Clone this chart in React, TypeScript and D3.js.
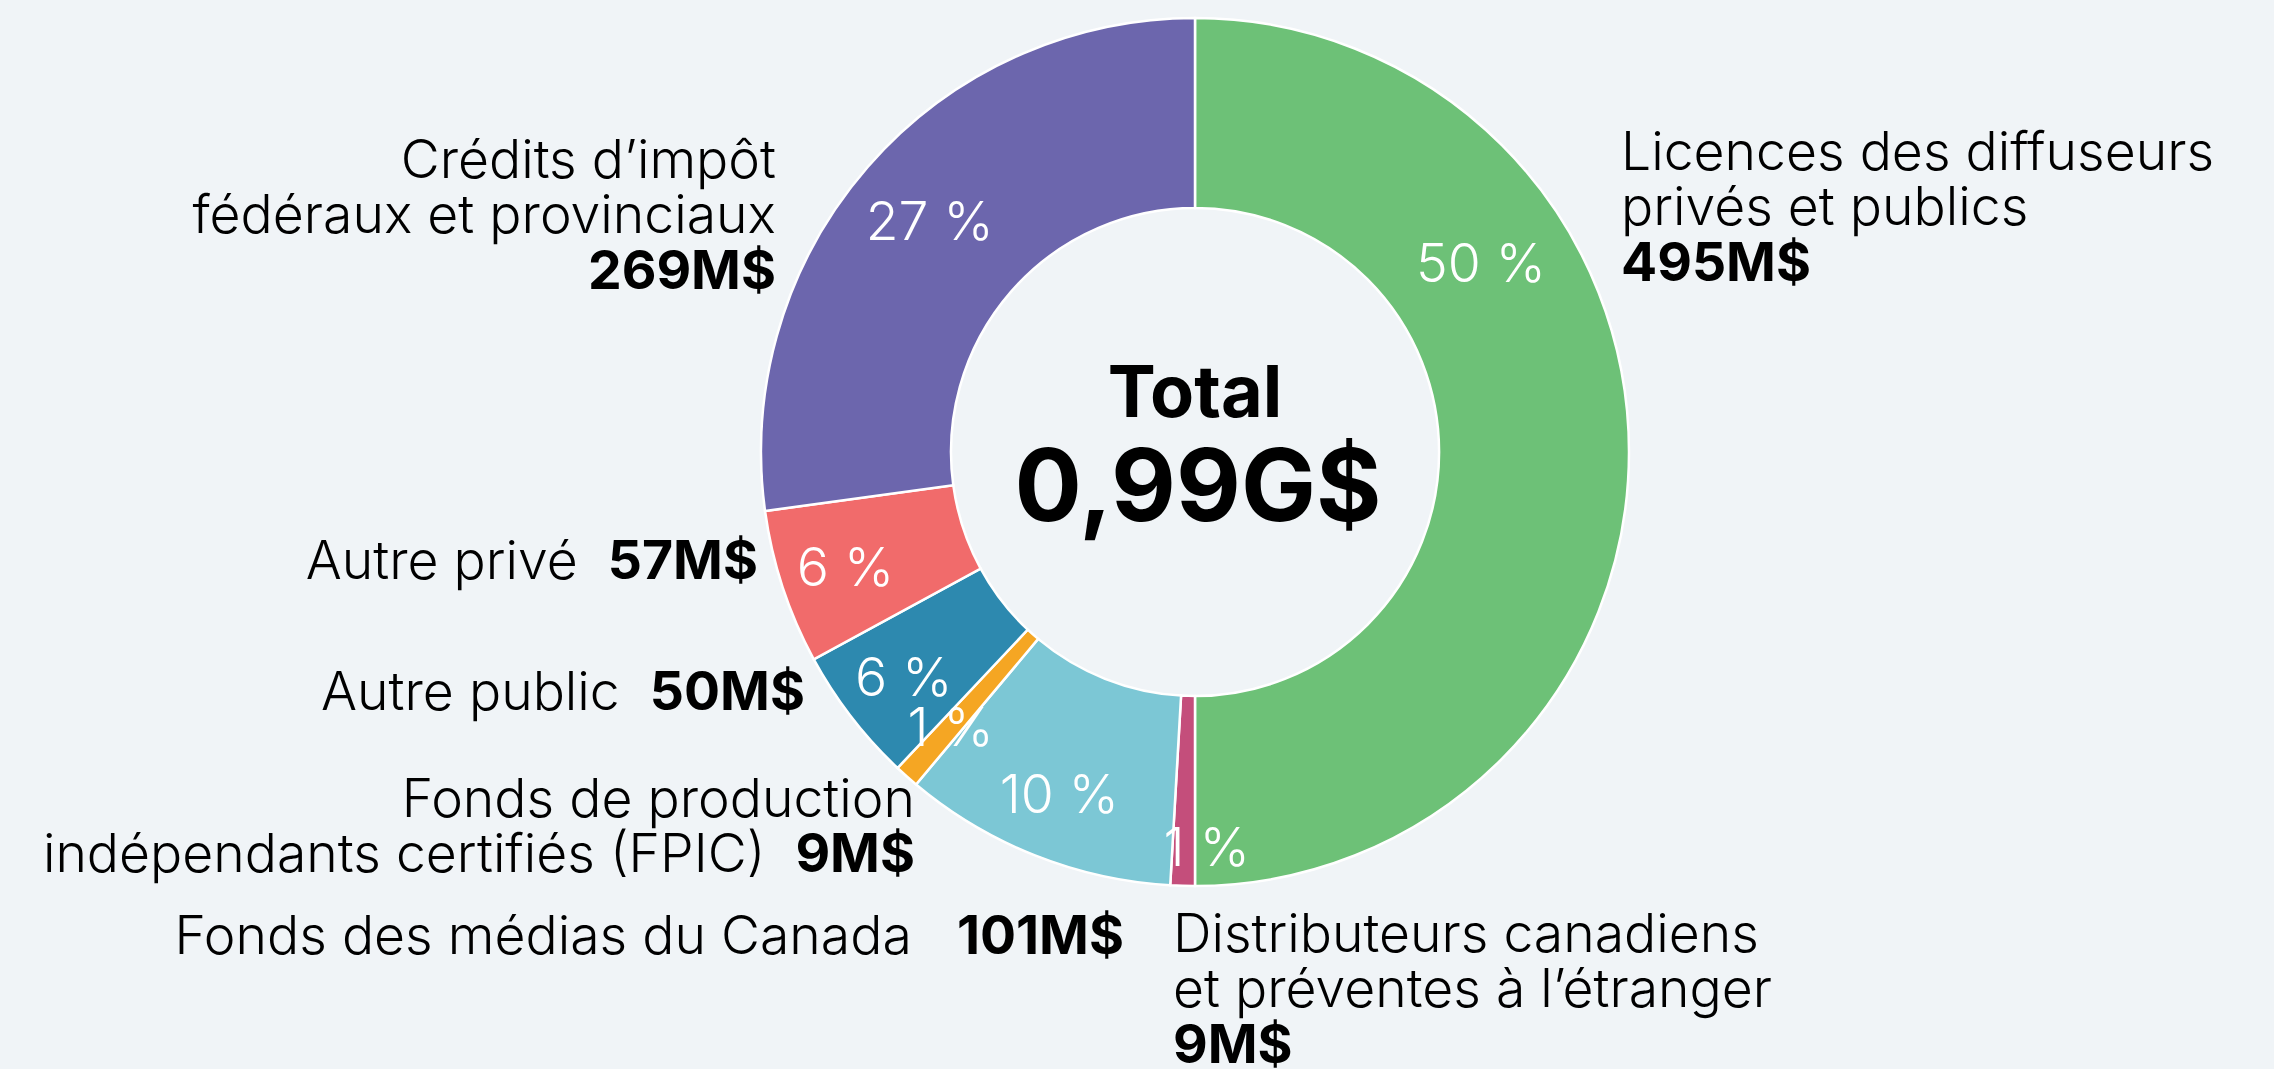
import React from "react";
import * as d3 from "d3";

const categories = [
  "Licences des diffuseurs privés et publics",
  "Distributeurs canadiens et préventes à l’étranger",
  "Fonds des médias du Canada",
  "Fonds de production indépendants certifiés (FPIC)",
  "Autre public",
  "Autre privé",
  "Crédits d’impôt fédéraux et provinciaux",
];
const values = [495, 9, 101, 9, 50, 57, 269];
const valueLabels = ["495M$", "9M$", "101M$", "9M$", "50M$", "57M$", "269M$"];
const percentLabels = ["50 %", "1 %", "10 %", "1 %", "6 %", "6 %", "27 %"];
const colors = ["#6DC177", "#C44E7B", "#7CC7D5", "#F5A623", "#2D89AF", "#F16B6B", "#6C66AD"];
const totalLabel = "0,99G$";

// layout (not data)
const W = 2274;
const H = 1069;
const CX = 1195;
const CY = 452;
const R_OUT = 434;
const R_IN = 244;
const LABEL_R = 368;
const BG = "#F0F4F7";
const FONT = "Inter, 'Noto Sans', sans-serif";
const FS = 53.5;

// per-slice percentage-label tweaks (angle in degrees clockwise from top, radius)
const pctTweaks: Record<number, { angle?: number; r?: number }> = {
  0: { angle: 56.5, r: 343 },
  1: { angle: 178.3, r: 395 },
  6: { r: 352 },
};

// annotation blocks
type Block = { idx: number; x: number; y: number; anchor: "start" | "end"; lines: string[]; inline?: boolean; gap?: string };
const blocks: Block[] = [
  { idx: 0, x: 1621, y: 170, anchor: "start", lines: ["Licences des diffuseurs", "privés et publics"] },
  { idx: 6, x: 776, y: 178, anchor: "end", lines: ["Crédits d’impôt", "fédéraux et provinciaux"] },
  { idx: 5, x: 758, y: 579, anchor: "end", lines: ["Autre privé"], inline: true, gap: "\u00a0\u00a0" },
  { idx: 4, x: 805, y: 710, anchor: "end", lines: ["Autre public"], inline: true, gap: "\u00a0\u00a0" },
  { idx: 3, x: 915, y: 817, anchor: "end", lines: ["Fonds de production", "indépendants certifiés (FPIC)"], inline: true, gap: "\u00a0\u00a0" },
  { idx: 2, x: 1124, y: 954, anchor: "end", lines: ["Fonds des médias du Canada"], inline: true, gap: "\u00a0\u00a0\u00a0" },
  { idx: 1, x: 1173, y: 952, anchor: "start", lines: ["Distributeurs canadiens", "et préventes à l’étranger"] },
];
const LINE_H = 55;
const BOLD_GAP = 56;

export default function App() {
  React.useEffect(() => {
    document.body.style.margin = "0";
    document.body.style.background = BG;
  }, []);

  const pie = d3.pie<number>().sort(null).value((d) => d)(values);
  const arc = d3.arc<d3.PieArcDatum<number>>().innerRadius(R_IN).outerRadius(R_OUT);

  return (
    <svg width={W} height={H} style={{ display: "block", position: "absolute", left: 0, top: 0 }} fontFamily={FONT}>
      <rect width={W} height={H} fill={BG} />
      <g transform={`translate(${CX},${CY})`}>
        {pie.map((p, i) => (
          <path key={i} d={arc(p) || ""} fill={colors[i]} stroke="#ffffff" strokeWidth={2.5} />
        ))}
        {pie.map((p, i) => {
          const t = pctTweaks[i] || {};
          const a = t.angle !== undefined ? (t.angle * Math.PI) / 180 : (p.startAngle + p.endAngle) / 2;
          const r = t.r ?? LABEL_R;
          const x = r * Math.sin(a);
          const y = -r * Math.cos(a);
          return (
            <text key={"p" + i} x={x} y={y + FS * 0.36} textAnchor="middle" fill="#ffffff" fontSize={FS} fontWeight={300}>
              {percentLabels[i]}
            </text>
          );
        })}
        <text x={0} y={417 - CY} textAnchor="middle" fontSize={72} fontWeight={700} fill="#000">Total</text>
        <text x={3} y={521 - CY} textAnchor="middle" fontSize={100} fontWeight={700} fill="#000">{totalLabel}</text>
      </g>
      {blocks.map((b, k) => (
        <text key={"b" + k} textAnchor={b.anchor} fontSize={FS} fill="#000" fontWeight={300}>
          {b.lines.map((l, j) => {
            const last = j === b.lines.length - 1;
            return (
              <tspan key={j} x={b.x} y={b.y + j * LINE_H}>
                {l}
                {b.inline && last ? (
                  <>
                    {b.gap}
                    <tspan fontWeight={700}>{valueLabels[b.idx]}</tspan>
                  </>
                ) : null}
              </tspan>
            );
          })}
          {!b.inline ? (
            <tspan x={b.x} y={b.y + (b.lines.length - 1) * LINE_H + BOLD_GAP} fontWeight={700}>
              {valueLabels[b.idx]}
            </tspan>
          ) : null}
        </text>
      ))}
    </svg>
  );
}
